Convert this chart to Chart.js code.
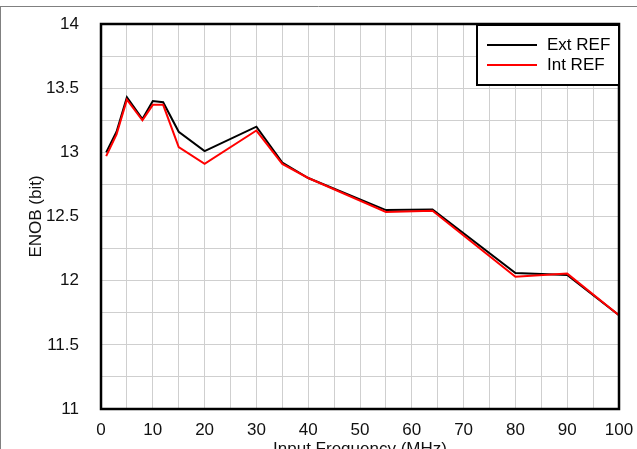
<!DOCTYPE html>
<html>
  <head>
    <meta charset="UTF-8">
    <title>ENOB vs Input Frequency</title>
    <script src="https://cdn.jsdelivr.net/npm/chart.js"></script>
    <style>
      body { margin: 0; overflow: hidden; background: #fff; }
    </style>
  </head>
  <body>
    <canvas id="enobChart" width="637" height="464"></canvas>
    <script>
      // input frequency in MHz
      const freqMHz = [1, 3, 5, 8, 10, 12, 15, 20, 30, 35, 40, 55, 64, 80, 90, 100];
      // ENOB in bits
      const extRef = [13.00, 13.16, 13.43, 13.26, 13.40, 13.39, 13.16, 13.01, 13.20, 12.92, 12.80, 12.55, 12.555, 12.06, 12.045, 11.73];
      const intRef = [12.97, 13.14, 13.41, 13.25, 13.37, 13.37, 13.04, 12.91, 13.17, 12.91, 12.80, 12.535, 12.545, 12.03, 12.055, 11.73];
      const seriesNames = ['Ext REF', 'Int REF'];
      const seriesColors = ['#000000', '#ff0000'];

      const toPoints = ys => freqMHz.map((f, i) => ({ x: f, y: ys[i] }));
      const font = { family: 'Liberation Sans, Arial, sans-serif', size: 17 };

      // outer frame lines, plot border and the boxed legend
      const framePlugin = {
        id: 'frame',
        beforeDraw(chart) {
          const ctx = chart.ctx;
          ctx.save();
          ctx.strokeStyle = '#808080';
          ctx.lineWidth = 1;
          ctx.beginPath();
          ctx.moveTo(0, 6.5);
          ctx.lineTo(chart.width, 6.5);
          ctx.moveTo(0.5, 6.5);
          ctx.lineTo(0.5, chart.height);
          ctx.stroke();
          ctx.restore();
        },
        afterDraw(chart) {
          const ctx = chart.ctx;
          const a = chart.chartArea;
          ctx.save();
          ctx.strokeStyle = '#000';
          ctx.lineWidth = 2.5;
          ctx.strokeRect(a.left, a.top, a.right - a.left, a.bottom - a.top);

          const w = 142, h = 60;
          const bx = a.right - w, by = a.top + 1;
          ctx.fillStyle = '#fff';
          ctx.fillRect(bx, by, w, h);
          ctx.lineWidth = 2;
          ctx.strokeRect(bx, by, w, h);
          ctx.font = `${font.size}px ${font.family}`;
          ctx.textBaseline = 'middle';
          chart.data.datasets.slice().sort((p, q) => p.legendIndex - q.legendIndex).forEach((ds, i) => {
            const y = by + 20 + i * 20;
            ctx.strokeStyle = ds.borderColor;
            ctx.lineWidth = 2;
            ctx.beginPath();
            ctx.moveTo(bx + 10, y);
            ctx.lineTo(bx + 60, y);
            ctx.stroke();
            ctx.fillStyle = '#000';
            ctx.fillText(ds.label, bx + 70, y);
          });
          ctx.restore();
        }
      };

      new Chart(document.getElementById('enobChart'), {
        type: 'line',
        data: {
          datasets: [
            // red drawn last so it sits over the black trace
            { label: seriesNames[1], legendIndex: 1, data: toPoints(intRef), borderColor: seriesColors[1] },
            { label: seriesNames[0], legendIndex: 0, data: toPoints(extRef), borderColor: seriesColors[0] }
          ].map(d => Object.assign(d, { borderWidth: 2, pointRadius: 0, tension: 0, fill: false }))
        },
        options: {
          responsive: false,
          animation: false,
          layout: { padding: { top: 24, right: 18, left: 0, bottom: 0 } },
          plugins: { legend: { display: false }, tooltip: { enabled: false } },
          scales: {
            x: {
              type: 'linear',
              min: 0,
              max: 100,
              afterFit(scale) {
                scale.height = 55;
                scale.paddingLeft = 0;
                scale.paddingRight = 0;
              },
              grid: { color: '#cfcfcf', lineWidth: 1, drawTicks: false },
              border: { display: false },
              ticks: {
                stepSize: 5,
                padding: 11,
                maxRotation: 0,
                autoSkip: false,
                color: '#111',
                font: font,
                callback: v => (v % 10 === 0 ? String(v) : '')
              },
              title: {
                display: true,
                text: 'Input Frequency (MHz)',
                color: '#111',
                font: font,
                padding: { top: 4, bottom: 4 }
              }
            },
            y: {
              min: 11,
              max: 14,
              afterFit(scale) {
                scale.width = 101;
                scale.paddingTop = 0;
                scale.paddingBottom = 0;
              },
              grid: { color: '#cfcfcf', lineWidth: 1, drawTicks: false },
              border: { display: false },
              ticks: {
                stepSize: 0.25,
                padding: 22,
                autoSkip: false,
                color: '#111',
                font: font,
                callback: v => (Math.abs(v * 2 - Math.round(v * 2)) < 1e-6 ? String(v) : '')
              },
              title: {
                display: true,
                text: 'ENOB (bit)',
                color: '#111',
                font: font,
                padding: { top: 26, bottom: 0 }
              }
            }
          }
        },
        plugins: [framePlugin]
      });
    </script>
  </body>
</html>
